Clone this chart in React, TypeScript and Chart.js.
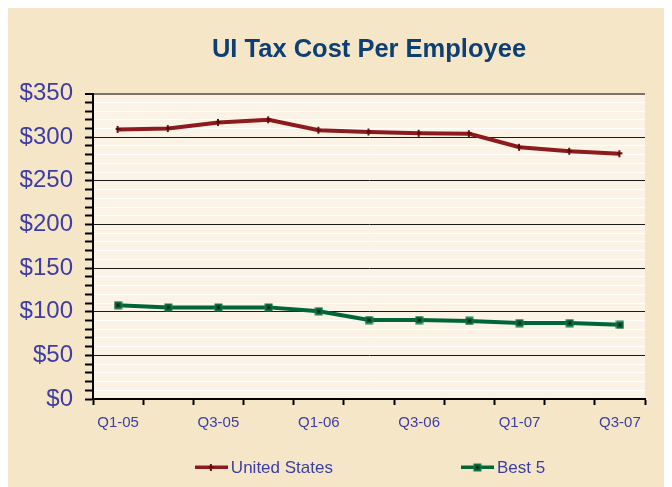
import React, { useEffect, useRef } from 'react';
import { Chart, registerables } from 'chart.js';

Chart.register(...registerables);

const categories = ['Q1-05', 'Q2-05', 'Q3-05', 'Q4-05', 'Q1-06', 'Q2-06', 'Q3-06', 'Q4-06', 'Q1-07', 'Q2-07', 'Q3-07'];
const usValues = [309, 310, 317, 320, 308, 306, 304.5, 304, 288.5, 284, 281];
const best5Values = [107.5, 105, 105, 105, 100.5, 90.5, 90.5, 89.5, 87, 87, 85];
const seriesNames = ['United States', 'Best 5'];
const yMin = 0;
const yMax = 350;
const yMajorStep = 50;
const yMinorStep = 10;

const RED = '#8C1A1E';
const GREEN = '#00663A';
const LABEL_BLUE = '#3D3DA3';
const TITLE_BLUE = '#0E3F72';
const OUTER_BG = '#F5E6C8';
const PLOT_BG = '#FBF3E5';
const FONT = '"Liberation Sans", Arial, sans-serif';

function makeMarker(kind: 'red' | 'green', lineLen: number): HTMLCanvasElement {
  const w = lineLen > 0 ? lineLen : 9;
  const h = 9;
  const c = document.createElement('canvas');
  c.width = w;
  c.height = h;
  const g = c.getContext('2d')!;
  const cx = Math.floor(w / 2);
  const cy = Math.floor(h / 2);
  if (lineLen > 0) {
    g.fillStyle = kind === 'red' ? RED : GREEN;
    g.fillRect(0, cy - 1.5, w, 3.5);
  }
  if (kind === 'red') {
    g.fillStyle = '#6A0E12';
    g.fillRect(cx - 1, cy - 3, 2, 7);
    g.fillRect(cx - 2, cy - 1, 5, 2);
    g.fillStyle = '#2a0000';
    g.fillRect(cx - 0.5, cy - 0.5, 1.5, 1.5);
  } else {
    g.fillStyle = '#13804A';
    g.fillRect(cx - 3.5, cy - 3.5, 8, 8);
    g.fillStyle = '#0A5A32';
    g.fillRect(cx - 2.5, cy - 2.5, 6, 6);
    g.fillStyle = '#000000';
    g.fillRect(cx - 0.5, cy - 0.5, 2, 2);
  }
  return c;
}

const plotBgPlugin = {
  id: 'plotBg',
  beforeDraw(chart: any) {
    const { ctx, chartArea } = chart;
    if (!chartArea) return;
    ctx.save();
    ctx.fillStyle = PLOT_BG;
    ctx.fillRect(chartArea.left, chartArea.top, chartArea.right - chartArea.left, chartArea.bottom - chartArea.top);
    ctx.restore();
  },
};

function makeLegendPlugin(samples: HTMLCanvasElement[]) {
  return {
    id: 'customLegend',
    afterDraw(chart: any) {
      const { ctx, chartArea } = chart;
      if (!chartArea) return;
      const fontSize = 17;
      const sampleW = 33;
      const textGap = 3;
      const itemGap = 128;
      ctx.save();
      ctx.font = `${fontSize}px ${FONT}`;
      ctx.textBaseline = 'middle';
      ctx.textAlign = 'left';
      const widths = chart.data.datasets.map((d: any) => sampleW + textGap + ctx.measureText(d.label).width);
      const total = widths.reduce((a: number, b: number) => a + b, 0) + itemGap * (widths.length - 1);
      const centerX = (chartArea.left + chartArea.right) / 2 + 1;
      const y = chart.height - 20;
      let x = centerX - total / 2;
      chart.data.datasets.forEach((d: any, i: number) => {
        const img = samples[i];
        ctx.drawImage(img, x, Math.round(y - img.height / 2));
        ctx.fillStyle = LABEL_BLUE;
        ctx.fillText(d.label, x + sampleW + textGap, y + 1);
        x += widths[i] + itemGap;
      });
      ctx.restore();
    },
  };
}

export default function App() {
  const ref = useRef<HTMLCanvasElement | null>(null);

  useEffect(() => {
    if (!ref.current) return;
    const redPt = makeMarker('red', 0);
    const greenPt = makeMarker('green', 0);
    const redLeg = makeMarker('red', 33);
    const greenLeg = makeMarker('green', 33);

    const chart = new Chart(ref.current, {
      type: 'line',
      data: {
        labels: categories,
        datasets: [
          {
            label: seriesNames[0],
            data: usValues,
            borderColor: RED,
            backgroundColor: RED,
            borderWidth: 4,
            pointStyle: redPt as any,
            pointRadius: 4,
            tension: 0,
          },
          {
            label: seriesNames[1],
            data: best5Values,
            borderColor: GREEN,
            backgroundColor: GREEN,
            borderWidth: 4,
            pointStyle: greenPt as any,
            pointRadius: 4,
            tension: 0,
          },
        ],
      },
      options: {
        animation: false,
        responsive: true,
        maintainAspectRatio: false,
        layout: { padding: { left: 0, right: 27, top: 0, bottom: 46 } },
        plugins: {
          title: {
            display: true,
            text: 'UI Tax Cost Per Employee',
            color: TITLE_BLUE,
            font: { family: FONT, size: 25.5, weight: 'bold' },
            padding: { top: 27, bottom: 28 },
            fullSize: false,
          },
          legend: { display: false },
          tooltip: { enabled: false },
        },
        scales: {
          x: {
            type: 'category',
            offset: true,
            grid: {
              offset: true,
              drawOnChartArea: false,
              drawTicks: true,
              tickLength: 6,
              tickColor: '#000',
              tickWidth: 2,
            },
            border: { display: true, color: '#000', width: 2 },
            ticks: {
              autoSkip: false,
              maxRotation: 0,
              padding: 9,
              color: LABEL_BLUE,
              font: { family: FONT, size: 15 },
              callback: (_v: any, i: number) => (i % 2 === 0 ? categories[i] : ''),
            },
          },
          y: {
            min: yMin,
            max: yMax,
            afterFit: (scale: any) => {
              scale.width = 85;
            },
            grid: {
              drawOnChartArea: true,
              drawTicks: true,
              tickLength: 8,
              tickWidth: 2,
              tickColor: '#000',
              color: (c: any) => {
                const v = c.tick ? c.tick.value : 0;
                if (v === yMax) return '#7a7468';
                if (v % yMajorStep === 0) return '#1a1a1a';
                return '#FFFFFF';
              },
              lineWidth: (c: any) => {
                const v = c.tick ? c.tick.value : 0;
                if (v === yMax) return 2;
                return 1;
              },
            },
            border: { display: true, color: '#000', width: 2 },
            ticks: {
              stepSize: yMinorStep,
              autoSkip: false,
              padding: 12,
              color: LABEL_BLUE,
              font: { family: FONT, size: 24 },
              callback: (v: any) => (Number(v) % yMajorStep === 0 ? '$' + v : ''),
            },
          },
        },
      },
      plugins: [plotBgPlugin, makeLegendPlugin([redLeg, greenLeg])],
    });
    return () => chart.destroy();
  }, []);

  return (
    <div style={{ width: 664, height: 479, background: OUTER_BG, position: 'relative' }}>
      <canvas ref={ref} />
    </div>
  );
}
